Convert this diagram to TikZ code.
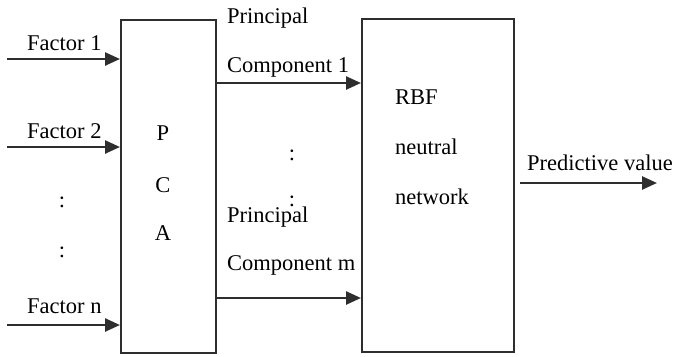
\documentclass[tikz,border=0pt]{standalone}
\usepackage{fontspec}
\setmainfont{Liberation Serif}
\usetikzlibrary{arrows.meta}
\definecolor{ink}{HTML}{2E2E2E}
\tikzset{
  blk/.style={draw=ink, line width=2pt, minimum width=#1, inner sep=0pt, minimum height=333pt},
  arr/.style={draw=ink, line width=2.5pt, -{Triangle[length=15pt,width=13pt]}},
  lbl/.style={anchor=west, inner sep=0pt, text=black, font=\fontsize{22.5}{26}\selectfont},
  ctr/.style={inner sep=0pt, text=black, font=\fontsize{22.5}{26}\selectfont}
}
\begin{document}
\begin{tikzpicture}[x=1pt,y=-1pt]
\useasboundingbox (0,0) rectangle (685,356);
\node[blk=95pt] (pca) at (168.5,186) {};
\node[blk=152pt] (rbf) at (438,185.5) {};
% inputs
\coordinate (f1) at (7,59);
\coordinate (f2) at (7,147);
\coordinate (fn) at (7,325);
\draw[arr] (f1) -- (f1 -| pca.west);
\draw[arr] (f2) -- (f2 -| pca.west);
\draw[arr] (fn) -- (fn -| pca.west);
\node[lbl] (t1) at (27,43) {Factor 1};
\node[lbl] (t2) at (27,131) {Factor 2};
\node[lbl] (tn) at (27,306) {Factor n};
\node[ctr] (d1) at (62,202) {:};
\node[ctr] (d2) at (62,252) {:};
% PCA letters
\node[ctr] (lp) at (163,133) {P};
\node[ctr] (lc) at (163,185) {C};
\node[ctr] (la) at (163,233) {A};
% components
\coordinate (c1) at (216,83);
\coordinate (cm) at (216,298);
\draw[arr] (pca.east |- c1) -- (c1 -| rbf.west);
\draw[arr] (pca.east |- cm) -- (cm -| rbf.west);
\node[lbl] (p1) at (227,18) {Principal};
\node[lbl] (k1) at (227,67) {Component 1};
\node[ctr] (d3) at (292,155) {:};
\node[ctr] (d4) at (292,201) {:};
\node[lbl] (p2) at (227,217) {Principal};
\node[lbl] (k2) at (227,265) {Component m};
% RBF
\node[lbl] (r1) at (395,97) {RBF};
\node[lbl] (r2) at (395,147) {neutral};
\node[lbl] (r3) at (395,197) {network};
% output
\coordinate (out) at (657,183);
\draw[arr] (rbf.east |- out) ++(5,0) coordinate (o0) (o0) -- (out);
\node[lbl] (pv) at (527,163) {Predictive value};
\end{tikzpicture}
\end{document}
